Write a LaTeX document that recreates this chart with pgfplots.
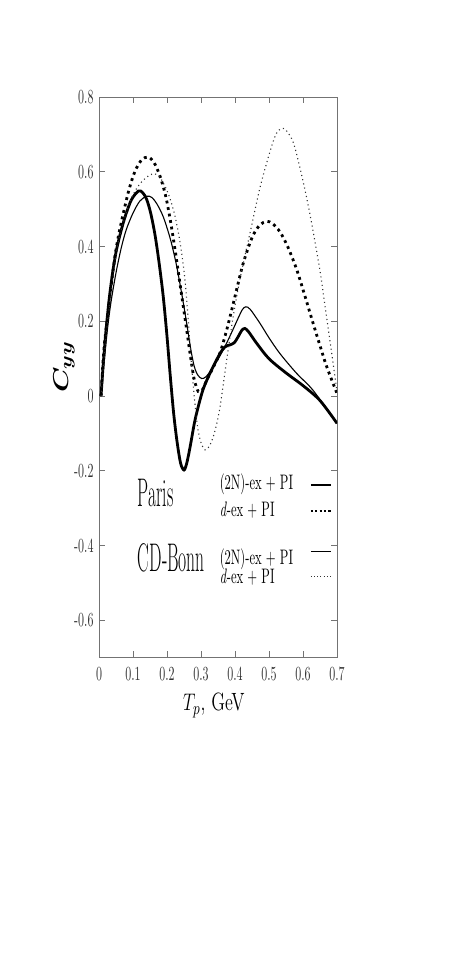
\documentclass[border=0pt]{standalone}
\usepackage{pgfplots}
\usepackage{graphicx}
\usepackage{amsmath}
\usepackage{bm}
\pgfplotsset{compat=1.18}
\newcommand\scx[1]{\scalebox{0.6}[1]{#1}}
\newcommand\scl[1]{\scalebox{0.6}[1]{#1}}
\newcommand\scb[1]{\scalebox{0.44}[1]{#1}}

\pgfplotstableread{
x y
0.006 0
0.012 0.08
0.020 0.17
0.030 0.26
0.040 0.33
0.050 0.385
0.060 0.425
0.075 0.475
0.095 0.525
0.116 0.549
0.128 0.545
0.140 0.527
0.152 0.49
0.165 0.430
0.177 0.355
0.189 0.266
0.200 0.16
0.210 0.05
0.220 -0.05
0.230 -0.125
0.240 -0.18
0.250 -0.198
0.258 -0.18
0.268 -0.136
0.280 -0.075
0.290 -0.035
0.307 0.020
0.331 0.070
0.356 0.114
0.371 0.132
0.385 0.137
0.398 0.143
0.410 0.160
0.420 0.176
0.429 0.181
0.440 0.172
0.464 0.141
0.500 0.100
0.550 0.062
0.600 0.028
0.650 -0.012
0.700 -0.073
}\parisN

\pgfplotstableread{
x y
0.006 0
0.015 0.09
0.025 0.18
0.035 0.25
0.050 0.33
0.065 0.395
0.080 0.445
0.100 0.490
0.120 0.522
0.140 0.535
0.155 0.532
0.170 0.515
0.189 0.480
0.210 0.420
0.228 0.350
0.245 0.265
0.258 0.194
0.270 0.125
0.280 0.080
0.290 0.057
0.302 0.047
0.315 0.052
0.336 0.078
0.356 0.108
0.376 0.143
0.395 0.180
0.410 0.210
0.422 0.232
0.432 0.239
0.445 0.232
0.474 0.194
0.500 0.156
0.532 0.114
0.581 0.061
0.630 0.015
0.700 -0.073
}\bonnN

\pgfplotstableread{
x y
0.006 0
0.015 0.13
0.032 0.266
0.047 0.375
0.062 0.450
0.086 0.545
0.105 0.600
0.125 0.632
0.145 0.640
0.162 0.625
0.179 0.590
0.195 0.540
0.209 0.475
0.224 0.390
0.238 0.302
0.258 0.177
0.270 0.100
0.280 0.045
0.292 0.012
0.305 0.018
0.317 0.043
0.335 0.075
0.356 0.116
0.375 0.175
0.395 0.248
0.410 0.305
0.424 0.355
0.440 0.400
0.454 0.432
0.473 0.458
0.493 0.468
0.510 0.462
0.532 0.440
0.555 0.400
0.581 0.340
0.605 0.270
0.630 0.194
0.650 0.135
0.670 0.078
0.700 0.007
}\parisD

\pgfplotstableread{
x y
0.006 0
0.025 0.20
0.052 0.39
0.070 0.46
0.091 0.520
0.110 0.555
0.130 0.578
0.150 0.592
0.165 0.595
0.182 0.582
0.200 0.550
0.212 0.520
0.224 0.480
0.235 0.430
0.245 0.370
0.253 0.310
0.262 0.210
0.270 0.110
0.277 0.030
0.285 -0.045
0.292 -0.095
0.302 -0.130
0.312 -0.144
0.324 -0.135
0.336 -0.109
0.346 -0.075
0.356 -0.029
0.366 0.035
0.376 0.100
0.395 0.215
0.415 0.315
0.445 0.440
0.474 0.560
0.503 0.655
0.520 0.700
0.535 0.716
0.550 0.712
0.571 0.680
0.590 0.615
0.611 0.530
0.630 0.440
0.650 0.335
0.665 0.240
0.679 0.150
0.700 0.012
}\bonnD

\begin{document}
\begin{tikzpicture}
\path[use as bounding box] (-49.5pt,-152.25pt) rectangle (178.5pt,328.75pt);
\begin{axis}[
  at={(0,0)}, anchor=south west,
  scale only axis,
  width=119pt, height=280.1pt,
  xmin=0, xmax=0.7, ymin=-0.7, ymax=0.8,
  axis line style={black!55, line width=0.5pt},
  xtick={0,0.1,0.2,0.3,0.4,0.5,0.6,0.7},
  xticklabels={\scx{0},\scx{0.1},\scx{0.2},\scx{0.3},\scx{0.4},\scx{0.5},\scx{0.6},\scx{0.7}},
  ytick={-0.6,-0.4,-0.2,0,0.2,0.4,0.6,0.8},
  yticklabels={\scx{-0.6},\scx{-0.4},\scx{-0.2},\scx{0},\scx{0.2},\scx{0.4},\scx{0.6},\scx{0.8}},
  major tick length=3pt,
  tick style={black!55, line width=0.5pt},
  tick label style={font=\fontsize{10}{12}\selectfont, text=black!80},
  xticklabel style={yshift=-1.3pt},
  yticklabel style={xshift=0.8pt},
  xlabel={\scalebox{0.72}[1]{$T_p$, GeV}},
  xlabel style={font=\fontsize{12.5}{14}\selectfont, at={(axis description cs:0.483,0)}, anchor=base, yshift=-26.6pt},
  ylabel={\scalebox{1}[0.75]{$\bm{C_{yy}}$}},
  ylabel style={font=\fontsize{15}{17}\selectfont, at={(axis description cs:-0.147,0.519)}, anchor=center},
  clip=true,
]
\addplot[black, line width=1.4pt, smooth, tension=0.5] table[x=x,y=y] {\parisN};
\addplot[black, line width=0.55pt, smooth, tension=0.5] table[x=x,y=y] {\bonnN};
\addplot[black, line width=1.4pt, dash pattern=on 1.4pt off 1.9pt, smooth, tension=0.5] table[x=x,y=y] {\parisD};
\addplot[black!80, line width=0.55pt, dash pattern=on 0.55pt off 1.6pt, smooth, tension=0.5] table[x=x,y=y] {\bonnD};

\node[anchor=base west, inner sep=0, font=\fontsize{20}{22}\selectfont] at (axis cs:0.113,-0.296) {\scb{Paris}};
\node[anchor=base west, inner sep=0, font=\fontsize{20}{22}\selectfont] at (axis cs:0.113,-0.470) {\scb{CD-Bonn}};
\node[anchor=base west, inner sep=0, font=\fontsize{10.5}{12}\selectfont] at (axis cs:0.354,-0.2515) {\scl{(2N)-ex + PI}};
\node[anchor=base west, inner sep=0, font=\fontsize{10.5}{12}\selectfont] at (axis cs:0.354,-0.323) {\scl{\textit{d}-ex + PI}};
\node[anchor=base west, inner sep=0, font=\fontsize{10.5}{12}\selectfont] at (axis cs:0.354,-0.450) {\scl{(2N)-ex + PI}};
\node[anchor=base west, inner sep=0, font=\fontsize{10.5}{12}\selectfont] at (axis cs:0.354,-0.503) {\scl{\textit{d}-ex + PI}};
\draw[black, line width=1.4pt] (axis cs:0.623,-0.238) -- (axis cs:0.681,-0.238);
\draw[black, line width=1.1pt, dash pattern=on 1.1pt off 1.1pt] (axis cs:0.623,-0.307) -- (axis cs:0.681,-0.307);
\draw[black, line width=0.55pt] (axis cs:0.623,-0.415) -- (axis cs:0.681,-0.415);
\draw[black!80, line width=0.5pt, dash pattern=on 0.5pt off 1.1pt] (axis cs:0.623,-0.483) -- (axis cs:0.681,-0.483);
\end{axis}
\end{tikzpicture}
\end{document}
